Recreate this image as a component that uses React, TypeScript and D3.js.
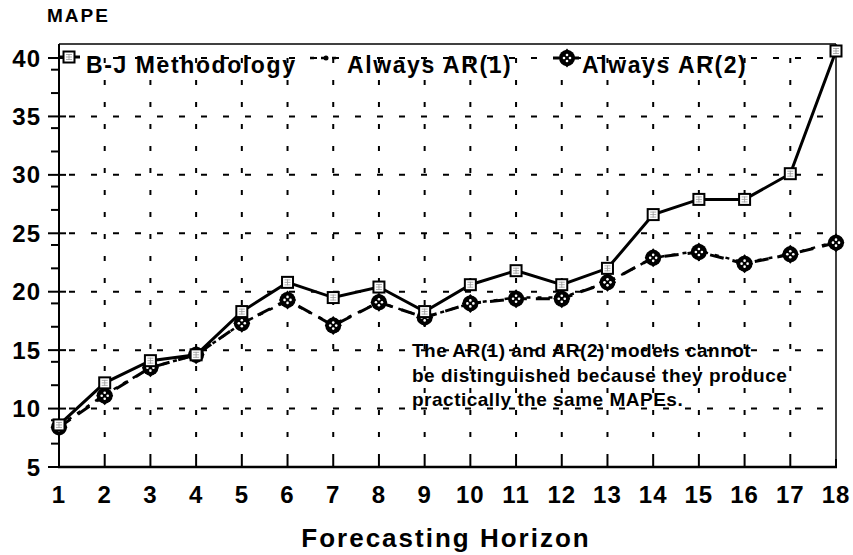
import React from "react";
import * as d3 from "d3";

// forecasting horizons 1..18
const horizons = [1, 2, 3, 4, 5, 6, 7, 8, 9, 10, 11, 12, 13, 14, 15, 16, 17, 18];
const bjMape = [8.6, 12.2, 14.1, 14.6, 18.3, 20.8, 19.5, 20.4, 18.3, 20.6, 21.8, 20.6, 22.0, 26.6, 27.9, 27.9, 30.1, 40.6];
const ar1Mape = [8.5, 11.2, 13.5, 14.6, 17.3, 19.2, 17.2, 19.1, 17.8, 19.0, 19.5, 19.5, 20.8, 22.9, 23.5, 22.5, 23.2, 24.3];
const ar2Mape = [8.4, 11.1, 13.5, 14.6, 17.3, 19.3, 17.1, 19.1, 17.8, 19.0, 19.4, 19.4, 20.8, 22.9, 23.4, 22.4, 23.2, 24.2];
const yTicks = [5, 10, 15, 20, 25, 30, 35, 40];
const yMinorTicks = [7, 9, 12, 14, 17, 19, 22, 24, 27, 29, 32, 34, 37, 39];
const noteLines = [
  "The AR(1) and AR(2) models cannot",
  "be distinguished because they produce",
  "practically the same MAPEs.",
];

const W = 853;
const H = 555;
const font = "'Liberation Sans', Arial, sans-serif";

const x = d3.scaleLinear().domain([1, 18]).range([59, 836]);
const y = d3.scaleLinear().domain([5, 40]).range([467, 58]);

const line = d3
  .line<number>()
  .x((_, i) => x(horizons[i]))
  .y(d => y(d));

const Square = ({ cx, cy }: { cx: number; cy: number }) => (
  <g transform={`translate(${cx},${cy})`}>
    <rect x={-5.5} y={-5.5} width={11} height={11} fill="#fff" stroke="#000" strokeWidth={2} />
    <path d="M-3,0H3M0,-3V3M-3,-2.5H3M-3,2.5H3" stroke="#999" strokeWidth={0.8} />
  </g>
);

const Diamond = ({ cx, cy }: { cx: number; cy: number }) => (
  <g transform={`translate(${cx},${cy})`}>
    <path d="M0,-9.5L8.5,0L0,9.5L-8.5,0Z" fill="#000" />
    <circle r={8} fill="#000" />
    <circle cx={-3} cy={0} r={1.3} fill="#fff" />
    <circle cx={3} cy={0} r={1.3} fill="#fff" />
    <circle cx={0} cy={-3} r={1.3} fill="#fff" />
    <circle cx={0} cy={3} r={1.3} fill="#fff" />
  </g>
);

const App = () => {
  const [x0, x1] = x.range();
  const [y0] = y.range();
  const top = 44;
  return (
    <svg width={W} height={H} style={{ position: "absolute", left: 0, top: 0, background: "#fff" }}>
      {/* grid */}
      {yTicks.slice(1).map(t => (
        <line key={"h" + t} x1={x0} x2={x1} y1={y(t)} y2={y(t)} stroke="#000" strokeWidth={2} strokeDasharray="6 16" strokeDashoffset={-10} />
      ))}
      {horizons.slice(1, -1).map(h => (
        <line key={"v" + h} x1={x(h)} x2={x(h)} y1={y0} y2={top} stroke="#000" strokeWidth={2} strokeDasharray="5 17" strokeDashoffset={-8} />
      ))}

      {/* frame & axes */}
      <line x1={x0} x2={x1} y1={top} y2={top} stroke="#000" strokeWidth={1.5} />
      <line x1={x1} x2={x1} y1={top} y2={y0} stroke="#000" strokeWidth={1.5} />
      <line x1={x0} x2={x0} y1={top} y2={y0 + 1} stroke="#000" strokeWidth={2} />
      <line x1={x0 - 1} x2={x1 + 1} y1={y0} y2={y0} stroke="#000" strokeWidth={2.5} />
      {yTicks.map(t => (
        <line key={"yt" + t} x1={x0 - 11} x2={x0 + 7} y1={y(t)} y2={y(t)} stroke="#000" strokeWidth={2} />
      ))}
      {yMinorTicks.map(t => (
        <line key={"ym" + t} x1={x0 - 8} x2={x0} y1={y(t)} y2={y(t)} stroke="#000" strokeWidth={2} />
      ))}
      {horizons.map(h => (
        <line key={"xt" + h} x1={x(h)} x2={x(h)} y1={y0} y2={y0 - 8} stroke="#000" strokeWidth={2} />
      ))}

      {/* tick labels */}
      {yTicks.map(t => (
        <text key={"yl" + t} x={41} y={y(t) + 8.5} textAnchor="end" fontFamily={font} fontWeight="bold" fontSize={24} letterSpacing={1}>
          {t}
        </text>
      ))}
      {horizons.map(h => (
        <text key={"xl" + h} x={x(h)} y={503} textAnchor="middle" fontFamily={font} fontWeight="bold" fontSize={24} letterSpacing={1}>
          {h}
        </text>
      ))}
      <text x={47} y={22} fontFamily={font} fontWeight="bold" fontSize={19} letterSpacing={2}>MAPE</text>
      <text x={446} y={547} textAnchor="middle" fontFamily={font} fontWeight="bold" fontSize={26} letterSpacing={2}>
        Forecasting Horizon
      </text>

      {/* series */}
      <path d={line(ar1Mape) || ""} fill="none" stroke="#000" strokeWidth={2.5} strokeDasharray="4 7" />
      <path d={line(ar2Mape) || ""} fill="none" stroke="#000" strokeWidth={3} strokeDasharray="14 9" />
      <path d={line(bjMape) || ""} fill="none" stroke="#000" strokeWidth={3} />
      {ar2Mape.map((v, i) => (
        <Diamond key={"d" + i} cx={x(horizons[i])} cy={y(v)} />
      ))}
      {bjMape.map((v, i) => (
        <Square key={"s" + i} cx={x(horizons[i])} cy={y(v)} />
      ))}

      {/* legend */}
      <line x1={59} x2={80} y1={57} y2={57} stroke="#000" strokeWidth={3} />
      <Square cx={69} cy={57} />
      <text x={86} y={73} fontFamily={font} fontWeight="bold" fontSize={23} letterSpacing={1.6}>B-J Methodology</text>
      <line x1={310} x2={342} y1={58} y2={58} stroke="#000" strokeWidth={2.5} strokeDasharray="4 7" />
      <circle cx={326} cy={58} r={2.5} fill="#000" />
      <text x={347} y={73} fontFamily={font} fontWeight="bold" fontSize={23} letterSpacing={1.6}>Always AR(1)</text>
      <line x1={553} x2={580} y1={58} y2={58} stroke="#000" strokeWidth={3} strokeDasharray="6 4" />
      <Diamond cx={567} cy={58} />
      <text x={582} y={73} fontFamily={font} fontWeight="bold" fontSize={23} letterSpacing={1.6}>Always AR(2)</text>

      {/* note */}
      {noteLines.map((s, i) => (
        <text key={"n" + i} x={412} y={357 + i * 24.5} fontFamily={font} fontWeight="bold" fontSize={19} letterSpacing={0.5}>
          {s}
        </text>
      ))}
    </svg>
  );
};

export default App;
